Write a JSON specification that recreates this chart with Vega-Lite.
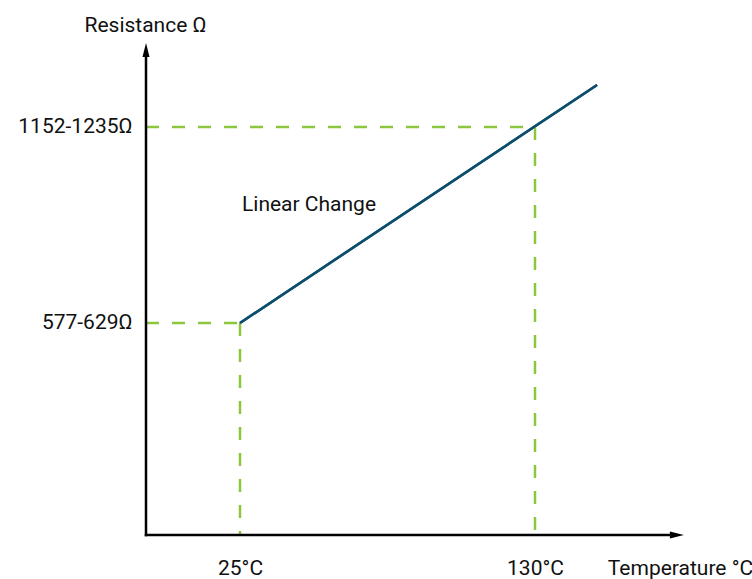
{
  "$schema": "https://vega.github.io/schema/vega-lite/v6.json",
  "autosize": "none",
  "width": 544,
  "height": 500,
  "padding": {"left": 146, "top": 35, "right": 62, "bottom": 44},
  "background": "white",
  "config": {
    "view": {"stroke": null},
    "font": "Roboto",
    "axis": {"grid": false, "domain": false, "ticks": false, "labelFont": "Roboto", "titleFont": "Roboto", "labelFontSize": 21, "titleFontSize": 21, "labelColor": "#111111", "titleColor": "#111111", "titleFontWeight": "normal"}
  },
  "resolve": {"axis": {"x": "independent", "y": "independent"}},
  "datasets": {
    "guides": [
      {"t1": -8.458, "r1": 603, "t2": 25, "r2": 603},
      {"t1": 25, "r1": 603, "t2": 25, "r2": -35.71},
      {"t1": -8.458, "r1": 1193.5, "t2": 130, "r2": 1193.5},
      {"t1": 130, "r1": 1193.5, "t2": 130, "r2": -35.71}
    ],
    "curve": [
      {"temperature": 25, "resistance": 603},
      {"temperature": 152.07, "resistance": 1320}
    ],
    "axes": [
      {"t1": -8.458, "r1": -35.71, "t2": 178.5, "r2": -35.71},
      {"t1": -8.458, "r1": -35.71, "t2": -8.458, "r2": 1408}
    ],
    "arrows": [
      {"axis": "x", "t": 180.5, "r": -35.71},
      {"axis": "y", "t": -8.458, "r": 1425.5}
    ],
    "notes": [
      {"t": 25.7, "r": 958.5, "label": "Linear Change"}
    ]
  },
  "layer": [
    {
      "data": {"name": "curve"},
      "mark": {"type": "line", "color": "#0D4E6D", "strokeWidth": 2.5},
      "encoding": {
        "x": {"field": "temperature", "type": "quantitative",
              "scale": {"domain": [-8.458, 185.169], "nice": false, "zero": false},
              "axis": {"values": [25, 130], "labelExpr": "datum.value + '°C'", "labelPadding": 33, "labelBaseline": "middle",
                       "title": "Temperature °C", "titleX": 534, "titleY": 33, "titleAlign": "center", "titleBaseline": "middle", "titleAnchor": null}},
        "y": {"field": "resistance", "type": "quantitative",
              "scale": {"domain": [-35.71, 1470.67], "nice": false, "zero": false},
              "axis": {"values": [603, 1193.5], "labelExpr": "datum.value < 900 ? '577-629Ω' : '1152-1235Ω'", "labelPadding": 14,
                       "title": "Resistance Ω", "titleAngle": 0, "titleX": -1, "titleY": -10, "titleAlign": "center", "titleBaseline": "middle", "titleAnchor": null}}
      }
    },
    {
      "data": {"name": "guides"},
      "mark": {"type": "rule", "color": "#8CC63F", "strokeWidth": 2.5, "strokeDash": [13, 13]},
      "encoding": {
        "x": {"field": "t1", "type": "quantitative", "axis": null},
        "y": {"field": "r1", "type": "quantitative", "axis": null},
        "x2": {"field": "t2"},
        "y2": {"field": "r2"}
      }
    },
    {
      "data": {"name": "curve"},
      "mark": {"type": "line", "color": "#0D4E6D", "strokeWidth": 2.5},
      "encoding": {
        "x": {"field": "temperature", "type": "quantitative", "axis": null},
        "y": {"field": "resistance", "type": "quantitative", "axis": null}
      }
    },
    {
      "data": {"name": "axes"},
      "mark": {"type": "rule", "color": "#000000", "strokeWidth": 2.5, "strokeCap": "square"},
      "encoding": {
        "x": {"field": "t1", "type": "quantitative", "axis": null},
        "y": {"field": "r1", "type": "quantitative", "axis": null},
        "x2": {"field": "t2"},
        "y2": {"field": "r2"}
      }
    },
    {
      "data": {"name": "arrows"},
      "transform": [{"filter": "datum.axis == 'x'"}],
      "mark": {"type": "point", "shape": "M-1,-0.5L1,0L-1,0.5Z", "size": 196, "filled": true, "color": "#000000", "opacity": 1},
      "encoding": {
        "x": {"field": "t", "type": "quantitative", "axis": null},
        "y": {"field": "r", "type": "quantitative", "axis": null}
      }
    },
    {
      "data": {"name": "arrows"},
      "transform": [{"filter": "datum.axis == 'y'"}],
      "mark": {"type": "point", "shape": "M-0.5,1L0,-1L0.5,1Z", "size": 196, "filled": true, "color": "#000000", "opacity": 1},
      "encoding": {
        "x": {"field": "t", "type": "quantitative", "axis": null},
        "y": {"field": "r", "type": "quantitative", "axis": null}
      }
    },
    {
      "data": {"name": "notes"},
      "mark": {"type": "text", "align": "left", "baseline": "middle", "fontSize": 21, "font": "Roboto", "color": "#111111"},
      "encoding": {
        "x": {"field": "t", "type": "quantitative", "axis": null},
        "y": {"field": "r", "type": "quantitative", "axis": null},
        "text": {"field": "label"}
      }
    }
  ]
}
